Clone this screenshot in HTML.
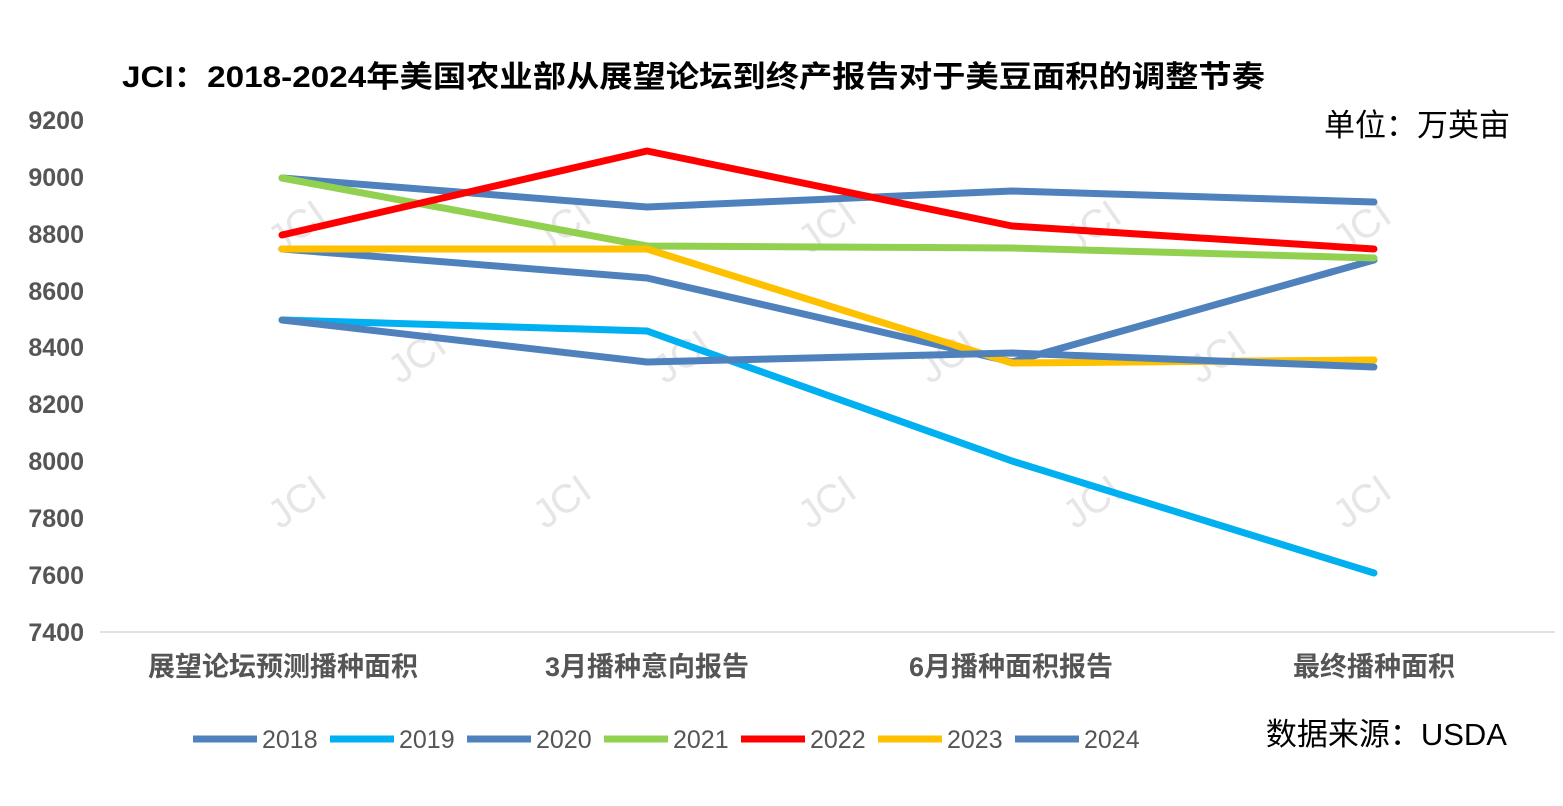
<!DOCTYPE html>
<html><head><meta charset="utf-8"><style>
body{margin:0;background:#fff;}
svg text{font-family:"Liberation Sans","Noto Sans CJK SC",sans-serif;}
</style></head><body>
<svg width="1563" height="801" viewBox="0 0 1563 801" xmlns="http://www.w3.org/2000/svg">
<rect width="1563" height="801" fill="#fff"/>
<text x="122" y="87" font-size="30" font-weight="bold" fill="#000" textLength="1143" lengthAdjust="spacingAndGlyphs">JCI：2018-2024年美国农业部从展望论坛到终产报告对于美豆面积的调整节奏</text>
<text x="1510" y="136" font-size="31" text-anchor="end" fill="#000">单位：万英亩</text>
<text x="1507" y="745" font-size="31" text-anchor="end" fill="#000">数据来源：USDA</text>
<g font-size="25" font-weight="bold" fill="#555" text-anchor="end">
<text x="84" y="129">9200</text><text x="84" y="186">9000</text><text x="84" y="243">8800</text>
<text x="84" y="300">8600</text><text x="84" y="356">8400</text><text x="84" y="413">8200</text>
<text x="84" y="470">8000</text><text x="84" y="527">7800</text><text x="84" y="584">7600</text>
<text x="84" y="641">7400</text>
</g>
<line x1="100" y1="632" x2="1555" y2="632" stroke="#d9d9d9" stroke-width="1.5"/>
<g font-size="27" font-weight="bold" fill="#555" text-anchor="middle">
<text x="283" y="676">展望论坛预测播种面积</text><text x="647" y="676">3月播种意向报告</text>
<text x="1011" y="676">6月播种面积报告</text><text x="1374" y="676">最终播种面积</text>
</g>
<g font-size="40" fill="#e0e0e0" opacity="0.8">
<text transform="translate(280,255) rotate(-35)">JCI</text>
<text transform="translate(545,255) rotate(-35)">JCI</text>
<text transform="translate(810,255) rotate(-35)">JCI</text>
<text transform="translate(1075,255) rotate(-35)">JCI</text>
<text transform="translate(1345,255) rotate(-35)">JCI</text>
<text transform="translate(400,385) rotate(-35)">JCI</text>
<text transform="translate(665,385) rotate(-35)">JCI</text>
<text transform="translate(930,385) rotate(-35)">JCI</text>
<text transform="translate(1200,385) rotate(-35)">JCI</text>
<text transform="translate(280,530) rotate(-35)">JCI</text>
<text transform="translate(545,530) rotate(-35)">JCI</text>
<text transform="translate(810,530) rotate(-35)">JCI</text>
<text transform="translate(1075,530) rotate(-35)">JCI</text>
<text transform="translate(1345,530) rotate(-35)">JCI</text>
</g>
<g fill="none" stroke-width="7" stroke-linejoin="round" stroke-linecap="round">
<polyline stroke="#4f81bd" points="282,178 647,207 1012,191 1374,202"/>
<polyline stroke="#00b0f0" points="282,320 647,331 1012,461 1374,573"/>
<polyline stroke="#4f81bd" points="282,249 647,278 1012,362 1374,260"/>
<polyline stroke="#92d050" points="282,178 647,246 1012,248 1374,258"/>
<polyline stroke="#ff0000" points="282,235 647,151 1012,226 1374,249"/>
<polyline stroke="#ffc000" points="282,249 647,249 1012,363 1374,360"/>
<polyline stroke="#4f81bd" points="282,320 647,362 1012,353 1374,367"/>
</g>
<g stroke-width="7" font-size="25" fill="#555">
<line x1="193" y1="739" x2="257" y2="739" stroke="#4f81bd"/><text x="262" y="748">2018</text>
<line x1="330" y1="739" x2="394" y2="739" stroke="#00b0f0"/><text x="399" y="748">2019</text>
<line x1="467" y1="739" x2="531" y2="739" stroke="#4f81bd"/><text x="536" y="748">2020</text>
<line x1="604" y1="739" x2="668" y2="739" stroke="#92d050"/><text x="673" y="748">2021</text>
<line x1="741" y1="739" x2="805" y2="739" stroke="#ff0000"/><text x="810" y="748">2022</text>
<line x1="878" y1="739" x2="942" y2="739" stroke="#ffc000"/><text x="947" y="748">2023</text>
<line x1="1015" y1="739" x2="1079" y2="739" stroke="#4f81bd"/><text x="1084" y="748">2024</text>
</g>
</svg>
</body></html>
